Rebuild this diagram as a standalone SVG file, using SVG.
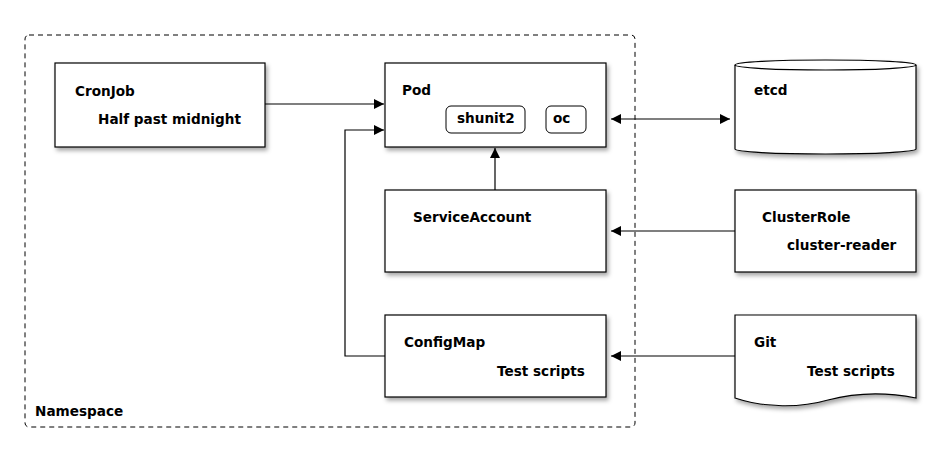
<svg xmlns="http://www.w3.org/2000/svg" width="940" height="462" viewBox="0 0 940 462">
<style>
.box{fill:#fff;stroke:#000;stroke-width:1.2}
.inner{fill:#fff;stroke:#000;stroke-width:1}
.t{font-family:"DejaVu Sans",sans-serif;font-weight:bold;font-size:13.6px;fill:#000}
.ln{fill:none;stroke:#000;stroke-width:1.2}
</style>
<defs>
<filter id="sh" x="-10%" y="-10%" width="125%" height="135%">
<feDropShadow dx="2" dy="3" stdDeviation="2" flood-color="#000" flood-opacity="0.35"/>
</filter>
<marker id="ah" viewBox="0 0 10 10" refX="10" refY="5" markerWidth="10" markerHeight="10" markerUnits="userSpaceOnUse" orient="auto-start-reverse">
<path d="M0,0 L10,5 L0,10 Z" fill="#000"/>
</marker>
</defs>
<rect width="940" height="462" fill="#fff"/>
<g id="namespace">
<rect x="25" y="35" width="610" height="392" rx="4" fill="none" stroke="#000" stroke-width="1" stroke-dasharray="5,4"/>
<text class="t" x="35" y="416">Namespace</text>
</g>
<g id="connectors">
<line class="ln" x1="265" y1="104" x2="384" y2="104" marker-end="url(#ah)"/>
<polyline class="ln" points="385,356 345,356 345,130 384,130" marker-end="url(#ah)"/>
<line class="ln" x1="495" y1="190" x2="495" y2="148" marker-end="url(#ah)"/>
<line class="ln" x1="611" y1="119" x2="730" y2="119" marker-start="url(#ah)" marker-end="url(#ah)"/>
<line class="ln" x1="735" y1="231" x2="611" y2="231" marker-end="url(#ah)"/>
<line class="ln" x1="735" y1="356" x2="611" y2="356" marker-end="url(#ah)"/>
</g>
<g id="cronjob">
<rect class="box" x="55" y="63" width="210" height="84" filter="url(#sh)"/>
<text class="t" x="75" y="96">CronJob</text>
<text class="t" x="98" y="124">Half past midnight</text>
</g>
<g id="pod">
<rect class="box" x="385" y="63" width="221" height="84" filter="url(#sh)"/>
<text class="t" x="402" y="95">Pod</text>
<rect class="inner" x="446" y="106" width="79" height="27" rx="5"/>
<text class="t" x="457" y="123">shunit2</text>
<rect class="inner" x="546" y="106" width="40" height="27" rx="5"/>
<text class="t" x="553" y="123">oc</text>
</g>
<g id="etcd">
<path class="box" d="M735,65 A90.5,5 0 0 1 916,65 V149 A90.5,5 0 0 1 735,149 Z" filter="url(#sh)"/>
<path class="ln" d="M735,65 A90.5,5 0 0 0 916,65"/>
<text class="t" x="754" y="95">etcd</text>
</g>
<g id="serviceaccount">
<rect class="box" x="385" y="190" width="221" height="82" filter="url(#sh)"/>
<text class="t" x="413" y="222">ServiceAccount</text>
</g>
<g id="clusterrole">
<rect class="box" x="735" y="190" width="181" height="82" filter="url(#sh)"/>
<text class="t" x="762" y="222">ClusterRole</text>
<text class="t" x="787" y="250">cluster-reader</text>
</g>
<g id="configmap">
<rect class="box" x="385" y="315" width="221" height="82" filter="url(#sh)"/>
<text class="t" x="404" y="347">ConfigMap</text>
<text class="t" x="497" y="376">Test scripts</text>
</g>
<g id="git">
<path class="box" d="M735,315 H916 V398 C886,392 858,392 828,400 C800,408 765,408 735,398 Z" filter="url(#sh)"/>
<text class="t" x="754" y="347">Git</text>
<text class="t" x="807" y="376">Test scripts</text>
</g>
</svg>
